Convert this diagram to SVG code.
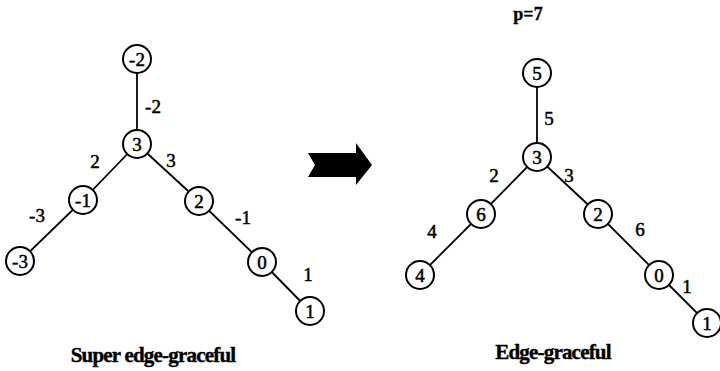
<svg xmlns="http://www.w3.org/2000/svg" width="720" height="371" viewBox="0 0 720 371" font-family="Liberation Serif, serif">
<style>
.e{stroke:#000;stroke-width:1.8;fill:none}
.n circle{fill:#fff;stroke:#000;stroke-width:2}
text{font-size:19px;fill:#000;stroke:#000;stroke-width:0.5;text-anchor:middle;dominant-baseline:central}
.cap{font-weight:bold;font-size:21px;letter-spacing:-0.8px;stroke-width:0.4}
.p{font-weight:bold;font-size:18px;stroke-width:0.3}
</style>
<rect width="720" height="371" fill="#fff"/>
<g id="connectors">
<line class="e" x1="137" y1="59" x2="137" y2="144"/>
<line class="e" x1="137" y1="144" x2="83" y2="200"/>
<line class="e" x1="137" y1="144" x2="199" y2="201"/>
<line class="e" x1="83" y1="200" x2="20" y2="261"/>
<line class="e" x1="199" y1="201" x2="262" y2="262"/>
<line class="e" x1="262" y1="262" x2="310" y2="311"/>
<line class="e" x1="537" y1="73" x2="537" y2="157"/>
<line class="e" x1="537" y1="157" x2="481" y2="214"/>
<line class="e" x1="537" y1="157" x2="598" y2="214"/>
<line class="e" x1="481" y1="214" x2="420" y2="275"/>
<line class="e" x1="598" y1="214" x2="659" y2="275"/>
<line class="e" x1="659" y1="275" x2="707" y2="323"/>
</g>
<g id="edge-labels">
<text x="153" y="106">-2</text>
<text x="95" y="161">2</text>
<text x="171" y="160">3</text>
<text x="37" y="215">-3</text>
<text x="243" y="217">-1</text>
<text x="308" y="274">1</text>
<text x="549" y="118">5</text>
<text x="494" y="175">2</text>
<text x="569" y="175">3</text>
<text x="432" y="231">4</text>
<text x="640" y="229">6</text>
<text x="687" y="286">1</text>
</g>
<g id="n-m2" class="n"><circle cx="137" cy="59" r="14"/><text x="137" y="59">-2</text></g>
<g id="n-3a" class="n"><circle cx="137" cy="144" r="14"/><text x="137" y="144">3</text></g>
<g id="n-m1" class="n"><circle cx="83" cy="200" r="14"/><text x="83" y="200">-1</text></g>
<g id="n-2a" class="n"><circle cx="199" cy="201" r="14"/><text x="199" y="201">2</text></g>
<g id="n-m3" class="n"><circle cx="20" cy="261" r="14"/><text x="20" y="261">-3</text></g>
<g id="n-0a" class="n"><circle cx="262" cy="262" r="14"/><text x="262" y="262">0</text></g>
<g id="n-1a" class="n"><circle cx="310" cy="311" r="14"/><text x="310" y="311">1</text></g>
<g id="n-5" class="n"><circle cx="537" cy="73" r="14"/><text x="537" y="73">5</text></g>
<g id="n-3b" class="n"><circle cx="537" cy="157" r="14"/><text x="537" y="157">3</text></g>
<g id="n-6" class="n"><circle cx="481" cy="214" r="14"/><text x="481" y="214">6</text></g>
<g id="n-2b" class="n"><circle cx="598" cy="214" r="14"/><text x="598" y="214">2</text></g>
<g id="n-4" class="n"><circle cx="420" cy="275" r="14"/><text x="420" y="275">4</text></g>
<g id="n-0b" class="n"><circle cx="659" cy="275" r="14"/><text x="659" y="275">0</text></g>
<g id="n-1b" class="n"><circle cx="707" cy="323" r="14"/><text x="707" y="323">1</text></g>
<g id="arrow"><polygon points="308,153 356,153 356,143 372,165 356,185 356,177 308,177 315,165" fill="#000"/></g>
<text class="p" x="528" y="14">p=7</text>
<text class="cap" x="153" y="355">Super edge-graceful</text>
<text class="cap" x="553" y="352">Edge-graceful</text>
</svg>
